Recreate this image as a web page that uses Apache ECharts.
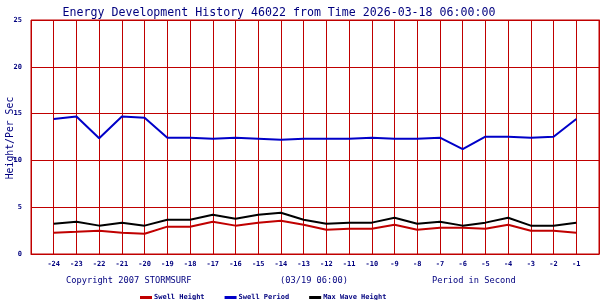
<!DOCTYPE html>
<html><head><meta charset="utf-8">
<script src="https://cdn.jsdelivr.net/npm/echarts@6/dist/echarts.min.js"></script>
<style>html,body{margin:0;padding:0;background:#fff}#c{width:600px;height:300px}</style>
</head><body><div id="c"></div>
<script>
const hours = [-24,-23,-22,-21,-20,-19,-18,-17,-16,-15,-14,-13,-12,-11,-10,-9,-8,-7,-6,-5,-4,-3,-2,-1];
const swellHeight = [2.28,2.38,2.49,2.28,2.17,2.92,2.92,3.45,3.03,3.35,3.56,3.13,2.6,2.7,2.7,3.13,2.6,2.81,2.81,2.7,3.13,2.49,2.49,2.28];
const swellPeriod = [14.42,14.7,12.36,14.7,14.56,12.43,12.43,12.32,12.43,12.32,12.21,12.32,12.32,12.32,12.43,12.32,12.32,12.43,11.2,12.53,12.53,12.43,12.53,14.42];
const maxWave = [3.24,3.45,3.03,3.35,3.03,3.66,3.66,4.2,3.77,4.2,4.41,3.66,3.24,3.35,3.35,3.88,3.24,3.45,3.03,3.35,3.88,3.03,3.03,3.35];
const yTicks = [0,5,10,15,20,25];

const navy = '#00007f';
const gridRed = '#c00000';
const mono = '"DejaVu Sans Mono", monospace';
const pairs = arr => hours.map((h,i)=>[h,arr[i]]);

const chart = echarts.init(document.getElementById('c'), null, {renderer:'canvas'});
chart.setOption({
  animation:false,
  backgroundColor:'#fff',
  title:[
    {text:'Energy Development History 46022 from Time 2026-03-18 06:00:00', left:274, top:2, textAlign:'center',
     textStyle:{fontFamily:mono, fontSize:11.6, fontWeight:'normal', color:navy}},
    {text:'Copyright 2007 STORMSURF', left:61, top:271, textStyle:{fontFamily:mono, fontSize:8.7, fontWeight:'normal', color:navy}},
    {text:'(03/19 06:00)', left:275, top:271, textStyle:{fontFamily:mono, fontSize:8.7, fontWeight:'normal', color:navy}},
    {text:'Period in Second', left:427, top:271, textStyle:{fontFamily:mono, fontSize:8.7, fontWeight:'normal', color:navy}}
  ],
  graphic:[
    {type:'text', x:10, y:138, rotation:Math.PI/2,
     style:{text:'Height/Per Sec', fill:navy, font:'9.8px "DejaVu Sans Mono", monospace', textAlign:'center', textVerticalAlign:'middle'}}
  ],
  legend:{
    left:135, top:289, itemWidth:12, itemHeight:3, itemGap:20, icon:'rect',
    textStyle:{fontFamily:mono, fontSize:7, fontWeight:'bold', color:navy, padding:[0,0,0,-3]},
    data:['Swell Height','Swell Period','Max Wave Height']
  },
  grid:{left:31, right:1, top:20, bottom:46, containLabel:false, outerBoundsMode:'none',
        show:true, borderColor:gridRed, borderWidth:1},
  xAxis:{
    type:'value', min:-25, max:0, interval:1,
    axisLine:{show:true, lineStyle:{color:gridRed}},
    axisTick:{show:false},
    splitLine:{show:true, lineStyle:{color:gridRed, width:1, type:'solid', opacity:1}},
    axisLabel:{color:navy, fontFamily:mono, fontSize:7, fontWeight:'bold', margin:7,
      formatter:v => (hours.indexOf(v) >= 0 ? String(v) : '')}
  },
  yAxis:{
    type:'value', min:0, max:25, interval:5,
    axisLine:{show:true, lineStyle:{color:gridRed}},
    axisTick:{show:false},
    splitLine:{show:true, lineStyle:{color:gridRed, width:1, type:'solid', opacity:1}},
    axisLabel:{color:navy, fontFamily:mono, fontSize:7, fontWeight:'bold', margin:9,
      formatter:v => (yTicks.indexOf(v) >= 0 ? String(v) : '')}
  },
  series:[
    {name:'Swell Height', type:'line', data:pairs(swellHeight), showSymbol:false, symbol:'none', color:'#c00000', lineStyle:{width:2, color:'#c00000'}},
    {name:'Swell Period', type:'line', data:pairs(swellPeriod), showSymbol:false, symbol:'none', color:'#0000c8', lineStyle:{width:2, color:'#0000c8'}},
    {name:'Max Wave Height', type:'line', data:pairs(maxWave), showSymbol:false, symbol:'none', color:'#000000', lineStyle:{width:2, color:'#000000'}}
  ]
});
</script></body></html>
